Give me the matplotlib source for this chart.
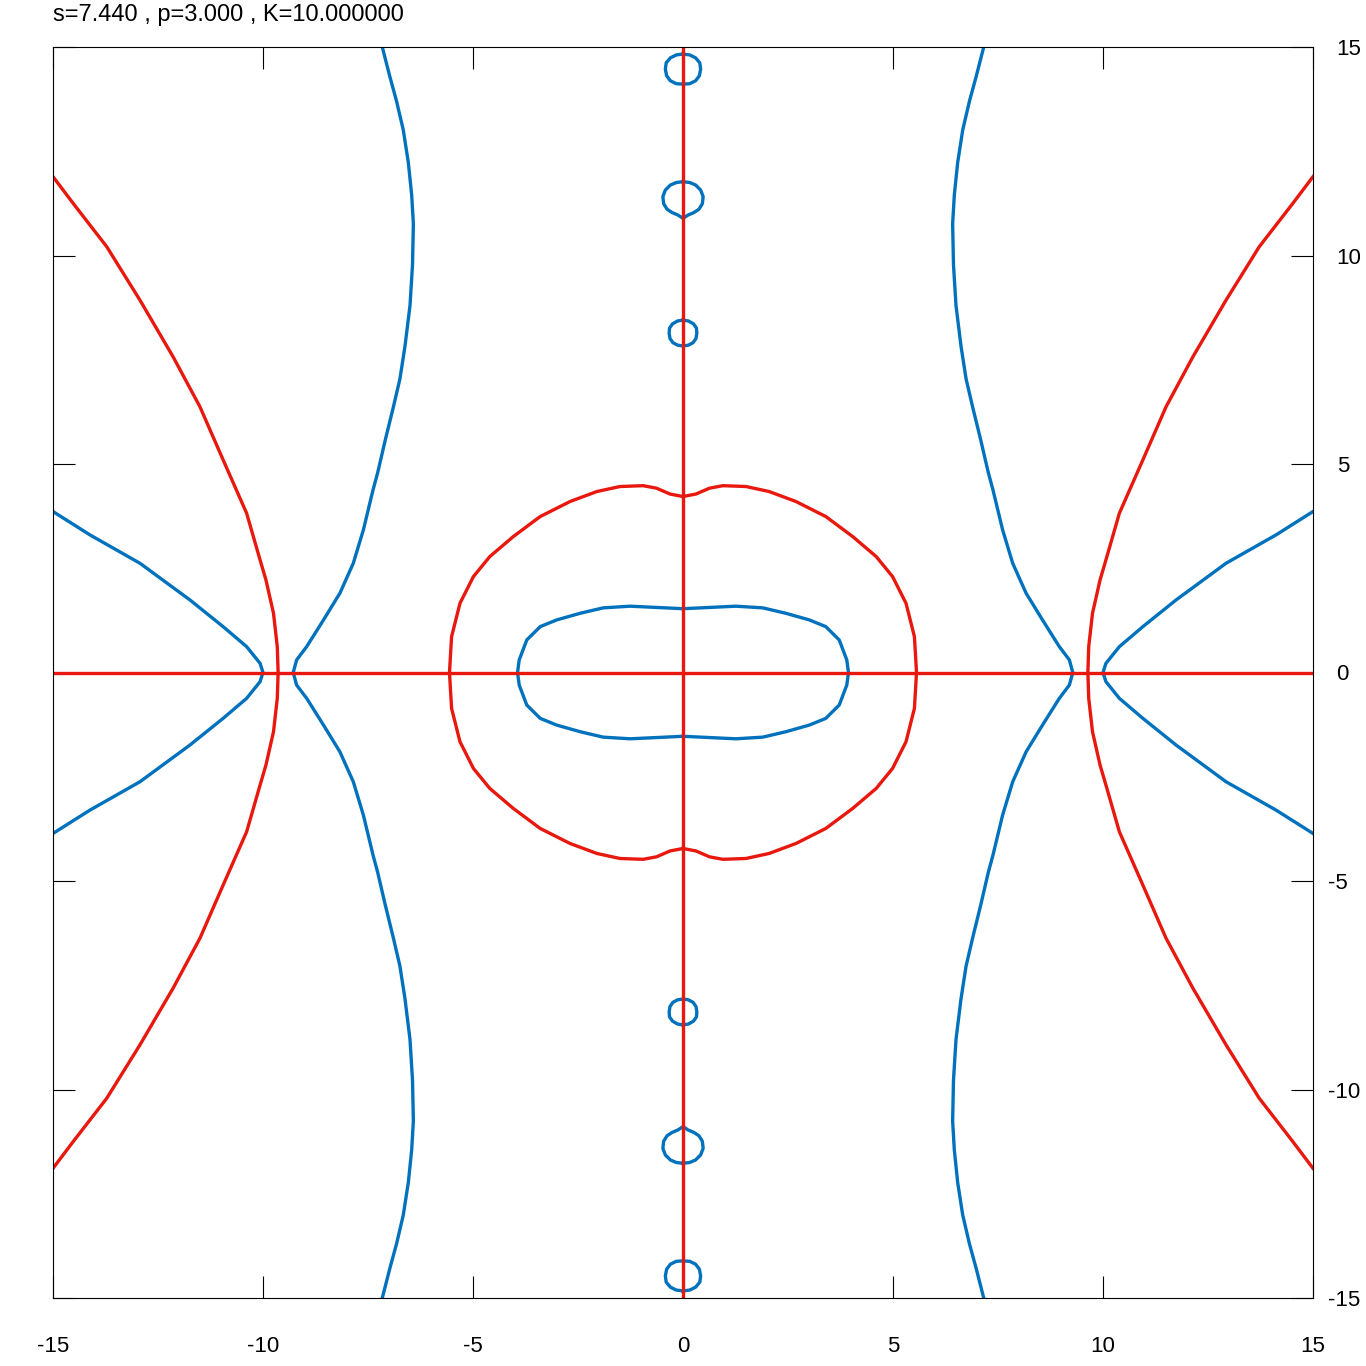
import numpy as np
import matplotlib.pyplot as plt
from matplotlib.transforms import ScaledTranslation

plt.rcParams['font.family'] = ['Liberation Sans', 'DejaVu Sans']

# curves, upper-left quarter only (the picture is symmetric)
red_outer_x = [-15.0, -14.52, -13.72, -12.93, -12.14, -11.50, -10.95, -10.39, -10.07, -9.93, -9.75, -9.66, -9.64]
red_outer_y = [11.89, 11.25, 10.21, 8.93, 7.57, 6.37, 5.10, 3.82, 2.70, 2.22, 1.42, 0.62, 0.0]

# these two run from the top (x=0) down to the real axis
red_lens_x = [0.0, -0.31, -0.63, -0.95, -1.50, -2.05, -2.69, -3.40, -4.04, -4.60, -4.99, -5.31, -5.51, -5.56]
red_lens_y = [4.22, 4.28, 4.42, 4.48, 4.46, 4.34, 4.10, 3.74, 3.26, 2.78, 2.30, 1.66, 0.86, 0.0]

blue_oval_x = [0.0, -0.63, -1.26, -1.90, -2.45, -3.01, -3.40, -3.72, -3.90, -3.94]
blue_oval_y = [1.53, 1.56, 1.59, 1.55, 1.42, 1.26, 1.10, 0.78, 0.30, 0.0]

blue_outer_x = [-15.0, -14.12, -12.93, -11.74, -10.95, -10.39, -10.07, -10.0]
blue_outer_y = [3.86, 3.30, 2.62, 1.74, 1.10, 0.62, 0.22, 0.0]

blue_inner_x = [-7.16, -6.98, -6.82, -6.66, -6.54, -6.46, -6.42, -6.44, -6.50, -6.62, -6.74,
                -6.90, -7.09, -7.27, -7.38, -7.61, -7.85, -8.17, -8.56, -8.96, -9.20, -9.28]
blue_inner_y = [15.0, 14.29, 13.70, 13.01, 12.23, 11.45, 10.76, 9.78, 8.80, 7.82, 7.04,
                6.35, 5.57, 4.79, 4.38, 3.42, 2.62, 1.90, 1.26, 0.62, 0.30, 0.0]

# small loops on the imaginary axis, right half (x >= 0), upper ones
loop1_x = [0, 0.16, 0.30, 0.40, 0.42, 0.39, 0.30, 0.16, 0]
loop1_y = [14.83, 14.81, 14.74, 14.62, 14.47, 14.31, 14.19, 14.12, 14.11]
loop2_x = [0, 0.16, 0.30, 0.42, 0.48, 0.46, 0.38, 0.26, 0.12, 0]
loop2_y = [11.77, 11.75, 11.69, 11.57, 11.41, 11.24, 11.11, 11.03, 10.97, 10.89]
loop3_x = [0, 0.13, 0.25, 0.32, 0.33, 0.31, 0.24, 0.13, 0]
loop3_y = [8.45, 8.43, 8.36, 8.26, 8.14, 8.01, 7.91, 7.85, 7.83]

axis_line = [-15, 15]
ticks = [-15, -10, -5, 0, 5, 10, 15]
title = 's=7.440 , p=3.000 , K=10.000000'

red = '#E8180E'
blue = '#0072BD'
lw = 2.4


def mirror_y(x, y):
    # quarter ending on y=0 -> half curve, symmetric about the real axis
    x = np.array(x); y = np.array(y)
    return np.concatenate([x, x[-2::-1]]), np.concatenate([y, -y[-2::-1]])


def mirror_x(x, y):
    # right half of a loop -> closed loop, symmetric about the imaginary axis
    x = np.array(x); y = np.array(y)
    return np.concatenate([x, -x[-2::-1]]), np.concatenate([y, y[-2::-1]])


fig = plt.figure(figsize=(13.66, 13.66), dpi=100)
ax = fig.add_axes([53/1366, 68/1366, 1260/1366, 1251/1366])

# blue curves
for cx, cy in [(blue_outer_x, blue_outer_y), (blue_inner_x, blue_inner_y), (blue_oval_x, blue_oval_y)]:
    hx, hy = mirror_y(cx, cy)
    ax.plot(hx, hy, color=blue, lw=lw)
    ax.plot(-hx, hy, color=blue, lw=lw)

for lx, ly in [(loop1_x, loop1_y), (loop2_x, loop2_y), (loop3_x, loop3_y)]:
    cx, cy = mirror_x(lx, ly)
    ax.plot(cx, cy, color=blue, lw=lw)
    ax.plot(cx, -cy, color=blue, lw=lw)

# red curves
for cx, cy in [(red_outer_x, red_outer_y), (red_lens_x, red_lens_y)]:
    hx, hy = mirror_y(cx, cy)
    ax.plot(hx, hy, color=red, lw=lw)
    ax.plot(-hx, hy, color=red, lw=lw)

ax.plot(axis_line, [0, 0], color=red, lw=lw)
ax.plot([0, 0], axis_line, color=red, lw=lw)

ax.set_xlim(-15, 15)
ax.set_ylim(-15, 15)
ax.set_xticks(ticks)
ax.set_yticks(ticks)
ax.set_xticklabels([str(t) for t in ticks])
ax.set_yticklabels([str(t) for t in ticks])
ax.tick_params(direction='in', length=16, width=0.8, top=True, right=True,
               labelleft=False, labelright=True, labelsize=16)
ax.tick_params(axis='x', pad=27)
ax.tick_params(axis='y', pad=17)
for s in ax.spines.values():
    s.set_linewidth(0.8)

# minus sign hangs out to the left of the right-hand labels
for lbl, t in zip(ax.get_yticklabels(), ticks):
    if t < 0:
        lbl.set_transform(lbl.get_transform() + ScaledTranslation(-9/100, 0, fig.dpi_scale_trans))

ax.set_title(title, loc='left', fontsize=17, pad=19)

plt.savefig('out.png', dpi=100)
